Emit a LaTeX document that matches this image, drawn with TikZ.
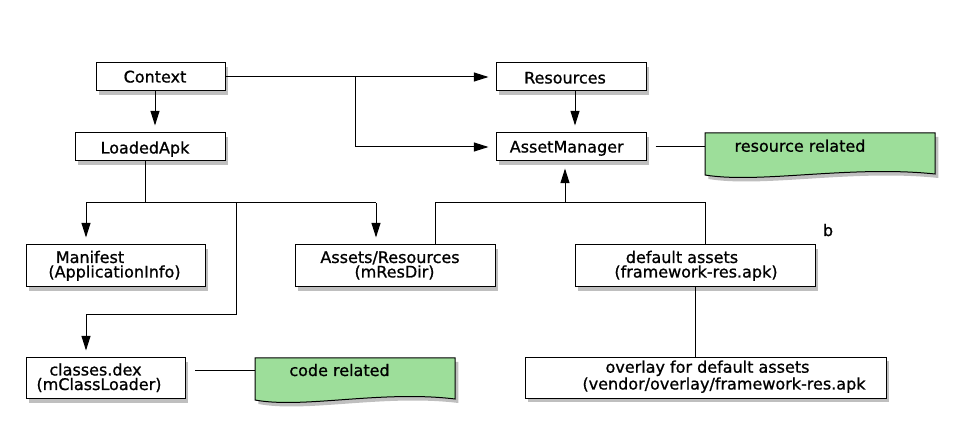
\documentclass[tikz,border=0pt]{standalone}
\usepackage{fontspec}
\setmainfont{DejaVu Sans}
\newfontfamily\diagfont{DejaVu Sans}[FakeBold=0.9]
\usetikzlibrary{arrows.meta,fit,shadows}
\definecolor{notegreen}{RGB}{157,222,154}
\begin{document}
\begin{tikzpicture}[x=0.75pt,y=-0.75pt,line width=0.75pt,
  box/.style={draw=black, fill=white, inner sep=0pt, line width=0.75pt,
    drop shadow={shadow xshift=2.5pt, shadow yshift=-3pt, opacity=0.25, fill=black}},
  notebox/.style={draw=black, fill=notegreen, line width=0.75pt,
    drop shadow={shadow xshift=2.5pt, shadow yshift=-3pt, opacity=0.25, fill=black}},
  lbl/.style={inner sep=0pt, anchor=base, align=center, font=\diagfont\fontsize{12}{10.9}\selectfont},
  arr/.style={-{Triangle[length=11pt,width=6.75pt]}, shorten >=5.25pt}]
\useasboundingbox (0,0) rectangle (960,434);
\fill[white] (0,0) rectangle (960,434);

% boxes
\node[box, fit={(96,63) (225,91)}] (ctx) {};
\node[box, fit={(75,133) (225,161)}] (lda) {};
\node[box, fit={(496,63) (646,91)}] (res) {};
\node[box, fit={(496,133) (646,161)}] (am) {};
\node[box, fit={(26,245) (205,287)}] (man) {};
\node[box, fit={(295,245) (495,287)}] (ast) {};
\node[box, fit={(575,245) (815,287)}] (dfl) {};
\node[box, fit={(26,358) (185,399)}] (cls) {};
\node[box, fit={(525,357.5) (886,398.5)}] (ovl) {};

% notes
\path[notebox] (705,133) -- (935,133) -- (935,174) .. controls (850,165) and (760,184) .. (705,175) -- cycle;
\path[notebox] (255,358) -- (455,358) -- (455,399) .. controls (381,390) and (303,409) .. (255,400) -- cycle;

% texts (base anchor = baseline of the last line)
\node[lbl] (tctx) at (155,82.5) {Context};
\node[lbl] (tlda) at (145,153.5) {LoadedApk};
\node[lbl] (tres) at (565,83.5) {Resources};
\node[lbl] (tam) at (566.7,152.5) {AssetManager};
\node[lbl] (trn) at (800,151.7) {resource related};
\node[lbl] (tman) at (114.5,277.5) {Manifest\hspace*{36.75pt}\\(ApplicationInfo)};
\node[lbl] (tast) at (394.5,277.5) {Assets/Resources\hspace*{6.75pt}\\(mResDir)};
\node[lbl] (tdfl) at (696,277.5) {default assets\hspace*{21pt}\\(framework-res.apk)};
\node[lbl] (tb) at (828,236) {b};
\node[lbl] (tcls) at (99,390) {classes.dex\hspace*{5.25pt}\\(mClassLoader)};
\node[lbl] (tcn) at (339.5,376) {code related};
\node[lbl] (tovl) at (724,389.5) {overlay for default assets\hspace*{24.75pt}\\(vendor/overlay/framework-res.apk};

% coordinates
\coordinate (j1) at (355,77.3);
\coordinate (c575) at (575,120);
\coordinate (rnL) at (705,147);
\coordinate (t1) at (145,203);
\coordinate (tl) at (86,203);
\coordinate (tr) at (376,203);
\coordinate (tm) at (236,203);
\coordinate (tbt) at (86,315);
\coordinate (u1) at (435,203);
\coordinate (u2) at (705,203);
\coordinate (u3) at (565,203);
\coordinate (ov) at (695,300);
\coordinate (cnS) at (195,371);
\coordinate (cnL) at (255,371);

% connectors
\draw[arr] (ctx.south -| tctx) -- (lda.north -| tctx);
\draw[arr] (ctx.east) -- (res.west);
\draw[arr] (j1) |- (am.west);
\draw[arr] (res.south -| c575) -- (am.north -| c575);
\draw ([xshift=6.75pt]am.east) -- (rnL);
\draw (lda.south -| tlda) -- (t1);
\draw (tl) -- (tr);
\draw[arr] (tl) -- (man.north -| tl);
\draw[arr] (tr) -- (ast.north -| tr);
\draw[arr] (tm) |- (tbt) -- (cls.north -| tbt);
\draw (ast.north -| u1) |- (u2) -- (dfl.north -| u2);
\draw[arr] (u3) -- (am.south -| u3);
\draw (dfl.south -| ov) -- (ovl.north -| ov);
\draw (cnS) -- (cnL);
\end{tikzpicture}
\end{document}
